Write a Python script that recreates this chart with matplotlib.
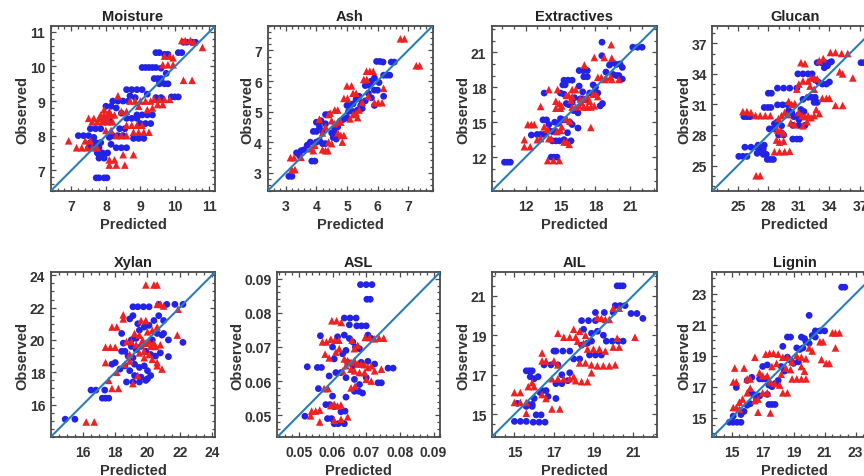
import matplotlib
matplotlib.use("Agg")
import matplotlib.pyplot as plt
from matplotlib.ticker import AutoMinorLocator, FixedLocator

plt.rcParams['font.family'] = ['Liberation Sans', 'DejaVu Sans']

# ---------------- data: (predicted, observed) ----------------
moisture_blue = [
    (7.72, 6.78), (7.8, 6.78), (7.95, 6.78), (8.03, 6.78),
    (10.25, 10.7), (10.35, 10.7), (10.5, 10.7), (10.6, 10.7),
    (10.1, 10.4), (10.2, 10.4), (9.45, 10.4), (9.55, 10.4), (9.7, 10.35), (9.8, 10.35),
    (9.05, 9.97), (9.15, 9.97), (9.25, 9.97), (9.35, 9.97), (9.45, 9.97),
    (9.4, 9.65), (9.5, 9.65), (9.6, 9.65), (9.7, 9.5), (9.8, 9.5), (9.55, 9.5),
    (9.9, 9.12), (10.0, 9.12), (10.1, 9.12), (9.45, 9.1), (9.6, 9.1),
    (8.6, 9.33), (8.75, 9.33), (8.9, 9.33), (9.05, 9.33),
    (8.2, 9.0), (8.35, 9.0), (8.5, 9.0), (8.65, 9.0),
    (8.0, 8.85), (8.15, 8.85), (8.3, 8.8),
    (8.9, 8.6), (9.05, 8.6), (9.2, 8.6), (9.35, 8.6),
    (8.6, 8.5), (8.75, 8.5), (8.9, 8.5),
    (9.0, 8.35), (9.15, 8.35), (9.3, 8.35),
    (7.55, 8.2), (7.7, 8.2), (7.85, 8.2),
    (7.2, 8.0), (7.35, 8.0), (7.5, 8.0), (8.2, 8.0), (8.35, 8.0), (8.5, 8.0),
    (8.8, 7.92), (8.95, 7.92), (9.1, 7.92),
    (7.55, 7.8), (7.7, 7.8), (7.85, 7.8),
    (7.5, 7.65), (7.65, 7.65), (7.8, 7.65), (8.3, 7.65), (8.45, 7.65), (8.6, 7.65),
    (7.75, 7.5), (7.9, 7.5), (8.05, 7.5),
    (7.8, 7.35), (7.95, 7.35),
    (8.4, 8.2), (8.55, 8.2), (7.95, 8.45), (8.1, 8.45),
    (8.7, 9.15), (8.85, 9.1), (9.2, 9.2), (8.45, 8.65), (8.1, 7.95), (7.65, 7.95),
    (8.15, 7.75), (9.6, 9.95), (9.75, 9.8),
]
moisture_red = [
    (10.2, 10.75), (10.3, 10.75), (10.45, 10.75), (10.55, 10.7), (10.8, 10.55),
    (9.7, 10.3), (9.85, 10.3), (9.95, 10.25),
    (9.65, 10.05), (9.8, 10.05), (9.95, 10.05),
    (10.25, 9.6), (10.5, 9.6),
    (8.35, 9.15), (8.7, 9.0), (8.85, 9.0), (9.0, 9.0), (9.15, 9.0), (9.3, 9.0),
    (9.4, 9.05), (9.55, 9.05), (9.7, 9.05), (9.85, 9.05), (9.5, 8.9), (9.65, 8.9),
    (7.85, 8.6), (7.95, 8.6), (8.05, 8.6), (8.15, 8.6), (8.25, 8.6),
    (7.5, 8.5), (7.65, 8.5), (7.8, 8.5), (7.95, 8.5), (8.05, 8.5),
    (7.6, 8.4), (7.75, 8.4), (7.9, 8.4), (8.05, 8.4), (8.2, 8.4),
    (8.6, 8.3), (8.75, 8.3), (8.9, 8.3), (9.05, 8.3),
    (8.8, 8.1), (8.95, 8.1), (9.1, 8.1), (9.25, 8.1),
    (8.3, 8.0), (8.45, 8.0), (8.6, 8.0),
    (6.92, 7.85), (7.55, 7.85), (7.4, 7.85),
    (7.15, 7.65), (7.3, 7.65), (7.45, 7.65), (7.6, 7.65), (7.75, 7.65),
    (8.8, 7.45), (8.5, 7.45),
    (8.1, 7.3), (8.25, 7.3),
    (8.1, 7.15), (8.3, 7.15), (8.55, 7.15),
    (8.0, 8.15), (8.15, 8.15), (8.45, 8.7), (8.6, 8.7),
    (9.2, 8.75), (9.35, 8.8), (8.95, 8.85), (8.1, 8.7), (7.95, 8.75),
]

ash_blue = [
    (3.1, 2.88), (3.2, 2.88), (3.85, 3.38), (3.95, 3.38),
    (3.35, 3.65), (3.5, 3.72), (3.6, 3.75), (3.45, 3.55),
    (5.97, 6.64), (6.08, 6.64), (6.18, 6.62), (6.45, 6.62), (6.55, 6.62),
    (6.2, 6.19), (6.3, 6.19), (6.4, 6.19),
    (5.6, 5.85), (5.75, 5.85), (5.9, 5.7), (6.0, 5.7), (6.2, 5.5),
    (5.0, 5.2), (5.1, 5.2), (5.2, 5.25),
    (4.3, 4.9), (4.4, 4.9), (4.1, 4.5), (4.3, 4.6),
    (3.9, 4.35), (4.0, 4.35), (4.2, 4.35),
    (4.0, 4.0), (4.1, 4.05), (4.5, 4.3), (4.6, 4.3),
    (4.8, 4.7), (4.9, 4.75), (5.0, 4.8),
    (5.2, 5.0), (5.35, 5.05), (5.5, 5.3), (5.6, 5.35),
    (4.2, 3.95), (4.3, 3.95),
    (5.5, 5.1), (5.7, 5.6), (5.8, 5.45), (5.9, 5.2),
    (4.6, 4.45), (4.7, 4.5), (5.3, 5.4), (5.4, 5.5), (5.8, 6.0), (5.9, 6.1),
    (4.0, 4.65), (4.15, 4.7), (3.7, 3.9), (3.8, 4.0),
    (4.55, 4.15), (4.65, 4.1), (5.05, 5.0), (5.45, 5.2), (6.05, 5.95),
]
ash_red = [
    (6.75, 7.38), (6.88, 7.38), (7.27, 6.5), (7.38, 6.5),
    (5.64, 6.32), (5.75, 6.32), (5.86, 6.32),
    (5.0, 5.84), (5.15, 5.84), (5.55, 6.05), (5.65, 6.05),
    (5.9, 5.29), (6.02, 5.29), (6.15, 5.29), (6.2, 5.76),
    (4.9, 5.43), (5.02, 5.43), (5.2, 5.6), (5.3, 5.6),
    (4.6, 5.05), (4.7, 5.05), (4.1, 4.75), (4.4, 4.9), (4.45, 4.95),
    (4.7, 4.3), (4.8, 4.22), (4.9, 4.22),
    (4.4, 4.0), (4.5, 3.95), (4.85, 4.0),
    (4.2, 3.75), (4.3, 3.72), (4.38, 3.72),
    (3.8, 3.78), (3.9, 3.72),
    (3.15, 3.49), (3.27, 3.49), (3.2, 3.1), (3.3, 3.1), (3.5, 3.5),
    (4.6, 4.6), (4.7, 4.65), (4.8, 4.65),
    (5.2, 4.9), (5.3, 4.95), (5.4, 5.05),
    (5.5, 5.3), (5.7, 5.5), (5.1, 4.76), (5.35, 4.8),
    (4.3, 4.5), (4.5, 4.7), (4.2, 4.3), (3.95, 3.9),
]

extractives_blue = [
    (10.2, 11.57), (10.45, 11.57), (10.7, 11.57),
    (14.2, 12.0), (14.45, 12.0), (14.7, 12.0),
    (21.2, 21.43), (21.6, 21.43), (22.0, 21.43),
    (18.56, 21.86), (18.55, 20.7),
    (19.2, 19.9), (19.5, 20.1), (19.8, 19.95), (20.1, 20.0), (20.3, 19.7),
    (19.5, 19.1), (19.8, 19.0), (20.0, 19.0), (20.3, 18.7),
    (16.6, 19.43), (16.95, 19.43), (17.3, 19.43),
    (17.0, 18.9), (17.3, 18.9),
    (15.3, 18.6), (15.65, 18.6), (16.0, 18.6),
    (15.2, 18.2), (15.4, 18.2), (13.6, 17.5),
    (15.0, 17.5), (15.3, 17.4),
    (17.5, 17.5), (17.85, 17.5), (18.2, 17.5),
    (16.7, 17.0), (16.9, 17.0), (17.2, 16.9),
    (15.5, 16.6), (15.7, 16.5),
    (16.1, 16.0), (16.3, 16.0), (16.5, 15.8),
    (15.0, 15.3), (15.2, 15.2), (15.4, 15.2),
    (14.5, 15.0), (14.8, 14.9),
    (13.0, 13.95), (13.3, 13.95), (13.6, 13.95),
    (14.0, 14.3), (14.3, 14.2), (14.6, 14.2),
    (14.3, 13.4), (14.6, 13.4), (14.9, 13.4),
    (15.3, 13.5), (15.6, 13.3), (15.9, 13.4),
    (13.5, 15.2), (13.8, 15.2),
    (15.8, 15.0), (16.0, 14.8), (16.5, 14.5),
    (12.5, 13.9), (18.4, 16.4), (18.6, 16.6),
    (16.0, 16.7), (16.2, 17.1), (17.8, 18.2), (18.0, 18.0),
    (14.0, 14.8), (15.6, 14.1), (16.6, 18.1), (16.9, 17.6), (18.9, 19.3),
]
extractives_red = [
    (19.35, 21.65), (17.9, 20.55), (18.75, 20.55), (19.4, 20.5),
    (17.05, 19.9), (18.2, 18.85), (18.5, 18.85),
    (18.8, 18.66), (19.4, 18.66), (20.0, 18.66),
    (18.9, 18.8), (19.3, 18.9),
    (14.0, 17.8), (14.75, 17.8), (16.0, 17.8), (16.3, 17.8),
    (15.5, 17.3), (15.7, 17.3), (16.0, 17.2),
    (16.7, 17.0), (17.0, 17.0), (17.3, 17.2),
    (17.8, 17.4), (18.0, 17.4), (18.2, 17.2),
    (14.6, 16.8), (14.9, 16.6), (15.1, 16.4),
    (14.6, 16.2), (15.0, 16.2),
    (16.0, 16.3), (16.3, 16.3), (16.6, 16.4),
    (17.0, 16.3), (17.3, 16.3), (17.6, 16.3), (17.9, 16.4),
    (13.3, 16.35), (15.5, 15.3), (15.8, 15.1),
    (12.2, 14.8), (12.5, 14.8), (12.75, 14.8),
    (13.6, 14.6), (13.9, 14.4), (17.6, 14.55),
    (11.9, 13.5), (11.9, 12.9), (12.4, 12.9),
    (13.0, 13.5), (13.3, 13.6), (14.0, 13.6), (14.2, 13.6),
    (15.3, 13.3), (15.55, 13.3), (15.75, 13.1),
    (13.9, 11.71), (14.4, 11.71), (14.9, 11.71),
    (14.7, 14.2), (15.0, 14.3), (15.1, 14.6),
    (16.8, 16.7), (17.5, 16.8), (15.9, 16.9),
]

glucan_blue = [
    (25.1, 25.9), (25.5, 25.9), (25.9, 25.9),
    (25.7, 26.8), (26.3, 26.8), (26.9, 26.8),
    (27.2, 26.6), (27.5, 26.6), (27.6, 27.0),
    (27.9, 25.6), (28.2, 25.6), (28.5, 25.6),
    (27.5, 26.1), (27.8, 26.1),
    (25.6, 29.8), (25.9, 29.8), (26.2, 29.8),
    (27.6, 30.7), (27.95, 30.7), (28.25, 30.7),
    (28.1, 28.6), (28.5, 28.6), (29.0, 28.0), (29.3, 28.2), (29.5, 28.0),
    (30.4, 27.6), (30.8, 27.6), (31.1, 27.6),
    (28.9, 30.96), (29.4, 30.96), (29.9, 30.96),
    (30.5, 29.8), (31.0, 29.5),
    (28.9, 32.6), (29.5, 32.6), (30.1, 32.6), (30.8, 32.6),
    (28.0, 32.1), (28.3, 32.1),
    (30.9, 34.0), (31.4, 34.0), (31.9, 34.0), (32.3, 34.0),
    (32.6, 33.4), (32.9, 33.2),
    (32.8, 35.1), (33.2, 35.1), (33.6, 35.1), (34.0, 35.1),
    (33.5, 34.6), (33.8, 34.8), (34.2, 35.2),
    (37.1, 35.1), (37.4, 35.1),
    (33.3, 33.0), (33.7, 33.0), (34.0, 33.2),
    (31.2, 30.5), (31.5, 30.3),
    (31.9, 31.7), (32.25, 31.7), (32.6, 31.7),
    (32.5, 31.2), (32.8, 31.2),
    (30.4, 28.95), (31.0, 28.95), (31.6, 28.95),
    (29.3, 28.9), (28.6, 29.1), (28.9, 29.3),
    (27.0, 27.0), (26.9, 26.2),
    (30.0, 30.4), (30.3, 30.2), (31.4, 31.5), (31.0, 30.0),
]
glucan_red = [
    (26.8, 24.0), (27.2, 24.0),
    (28.6, 26.35), (29.1, 26.35), (29.6, 26.35), (30.1, 26.4),
    (25.5, 30.3), (25.9, 30.3), (26.3, 30.2),
    (26.75, 29.9), (27.2, 29.9), (27.7, 29.9), (28.2, 29.9),
    (28.9, 28.5), (29.2, 28.4), (29.5, 28.2),
    (28.8, 27.5), (29.1, 27.3), (29.5, 27.4),
    (29.3, 29.9), (29.6, 30.2), (29.9, 30.0),
    (30.0, 31.3), (30.3, 31.0), (30.6, 31.1),
    (31.0, 30.2), (31.3, 29.9), (31.6, 29.8),
    (31.9, 29.9), (32.2, 29.7), (32.5, 29.9),
    (31.2, 35.1), (31.6, 35.0),
    (31.4, 33.3), (31.9, 33.3),
    (32.2, 33.6), (32.5, 33.6), (32.8, 33.5),
    (32.1, 32.8), (32.5, 32.5),
    (33.0, 35.3), (33.4, 35.5),
    (34.1, 36.1), (34.6, 36.1), (35.2, 36.0), (35.8, 36.0),
    (33.3, 31.6), (33.7, 31.6), (34.0, 31.6),
    (34.6, 30.9), (35.3, 30.9),
    (36.3, 33.6), (35.0, 34.2), (35.3, 34.0),
    (30.8, 32.5), (31.0, 33.0),
    (31.4, 28.9), (31.8, 29.3),
    (32.7, 30.5), (33.0, 30.1),
    (30.2, 29.2), (30.6, 29.0), (29.0, 29.6),
]

xylan_blue = [
    (14.9, 15.1), (15.5, 15.1),
    (16.5, 16.9), (16.8, 16.9), (17.35, 16.9),
    (17.2, 16.4), (17.4, 16.4), (17.6, 16.4),
    (18.7, 17.4), (19.1, 17.4), (19.5, 17.4), (19.9, 17.5),
    (19.1, 22.05), (19.4, 22.05), (19.75, 22.05), (20.1, 22.05),
    (20.7, 22.2), (21.2, 22.2), (21.7, 22.2), (22.2, 22.2),
    (22.2, 19.85), (21.3, 18.97),
    (18.9, 21.3), (19.1, 21.5),
    (18.4, 19.3), (18.6, 19.3),
    (18.3, 18.2), (18.6, 18.4), (18.9, 18.1),
    (17.8, 18.5), (18.0, 18.6),
    (19.5, 20.6), (19.8, 20.8), (20.1, 20.9),
    (20.6, 20.4), (20.9, 20.3),
    (19.3, 19.4), (19.6, 19.6), (19.9, 19.3),
    (20.2, 19.1), (20.5, 19.0), (20.8, 19.2),
    (19.2, 18.5), (19.5, 18.3), (19.8, 18.4),
    (20.2, 17.8), (20.0, 17.6),
    (19.0, 20.0), (19.3, 20.1),
    (20.4, 21.2), (20.7, 21.5), (21.0, 21.2),
    (18.8, 19.0), (19.1, 18.9),
    (21.0, 20.4), (21.3, 20.0),
    (18.5, 19.8), (19.0, 19.6), (20.3, 20.0), (20.0, 18.1),
    (19.4, 21.0), (19.2, 17.8), (19.6, 17.7), (18.4, 20.4),
]
xylan_red = [
    (19.9, 23.4), (20.4, 23.4), (20.6, 23.4),
    (16.2, 14.93), (16.7, 14.93),
    (17.8, 17.0), (18.2, 17.0), (17.6, 17.5),
    (17.8, 20.8), (18.1, 20.8),
    (17.4, 19.55), (17.7, 19.55), (18.0, 19.55),
    (17.4, 18.6), (18.1, 18.0),
    (18.5, 21.55), (21.85, 20.3),
    (20.6, 22.2), (20.8, 22.2), (21.0, 22.1), (21.9, 21.9),
    (19.6, 21.2), (19.9, 21.2),
    (19.3, 19.7), (19.6, 19.7), (19.9, 19.8), (20.2, 19.6), (20.5, 19.6), (20.8, 19.7),
    (18.7, 19.9), (19.0, 19.9), (18.9, 19.1),
    (19.5, 19.2), (19.8, 19.3), (20.1, 19.1),
    (20.3, 18.8), (20.6, 18.6),
    (19.1, 17.3), (19.4, 17.8),
    (20.6, 18.4), (20.9, 18.2),
    (20.0, 20.5), (20.3, 20.6), (20.6, 20.8),
    (18.6, 18.5), (18.9, 18.7),
    (19.2, 20.4), (19.5, 20.3),
    (19.8, 18.9), (18.5, 21.3),
    (19.7, 20.0), (20.1, 19.9), (20.4, 19.8),
]

asl_blue = [
    (0.0683, 0.0883), (0.0700, 0.0883), (0.0717, 0.0883),
    (0.0702, 0.0840), (0.0712, 0.0840),
    (0.0635, 0.0785), (0.0652, 0.0785), (0.0670, 0.0785),
    (0.0672, 0.0762), (0.0686, 0.0762), (0.0700, 0.0762),
    (0.0564, 0.0733), (0.0525, 0.0642),
    (0.0555, 0.0640), (0.0567, 0.0640), (0.0558, 0.0578),
    (0.0735, 0.0595), (0.0745, 0.0595),
    (0.0765, 0.0638), (0.0780, 0.0638),
    (0.0665, 0.0570), (0.0678, 0.0570), (0.0689, 0.0565),
    (0.0518, 0.0497),
    (0.0580, 0.0531), (0.0592, 0.0531), (0.0605, 0.0525),
    (0.0585, 0.0490), (0.0597, 0.0490),
    (0.0605, 0.0475), (0.0617, 0.0475), (0.0635, 0.0475),
    (0.0625, 0.0510), (0.0637, 0.0512),
    (0.0600, 0.0556), (0.0640, 0.0553),
    (0.0630, 0.0680), (0.0640, 0.0690), (0.0660, 0.0715), (0.0650, 0.0725), (0.0635, 0.0735),
    (0.0668, 0.0700), (0.0680, 0.0695), (0.0705, 0.0735), (0.0715, 0.0725),
    (0.0590, 0.0615), (0.0610, 0.0625), (0.0625, 0.0625), (0.0640, 0.0610),
    (0.0645, 0.0655), (0.0660, 0.0645), (0.0685, 0.0655), (0.0705, 0.0658), (0.0725, 0.0650),
    (0.0600, 0.0700), (0.0605, 0.0665),
    (0.0665, 0.0605), (0.0680, 0.0590), (0.0700, 0.0610),
    (0.0650, 0.0765), (0.0615, 0.0730),
]
asl_red = [
    (0.0598, 0.0777), (0.0612, 0.0777), (0.0626, 0.0772),
    (0.0595, 0.0723), (0.0607, 0.0720), (0.0619, 0.0720),
    (0.0570, 0.0715), (0.0582, 0.0715),
    (0.0697, 0.0728), (0.0710, 0.0728), (0.0724, 0.0724), (0.0738, 0.0726), (0.0752, 0.0726),
    (0.0578, 0.0679), (0.0590, 0.0668),
    (0.0635, 0.0665), (0.0645, 0.0660), (0.0655, 0.0655), (0.0665, 0.0660),
    (0.0675, 0.0650), (0.0685, 0.0650), (0.0695, 0.0648), (0.0705, 0.0640),
    (0.0715, 0.0645), (0.0725, 0.0630), (0.0745, 0.0635),
    (0.0655, 0.0635), (0.0665, 0.0630), (0.0680, 0.0625), (0.0695, 0.0625),
    (0.0640, 0.0645), (0.0630, 0.0630),
    (0.0575, 0.0578), (0.0587, 0.0578),
    (0.0655, 0.0580), (0.0667, 0.0585),
    (0.0700, 0.0605), (0.0715, 0.0600),
    (0.0538, 0.0512), (0.0550, 0.0512), (0.0562, 0.0515),
    (0.0535, 0.0498), (0.0562, 0.0480),
    (0.0595, 0.0528), (0.0605, 0.0532), (0.0615, 0.0527), (0.0625, 0.0530),
    (0.0605, 0.0485), (0.0625, 0.0488), (0.0645, 0.0495),
    (0.0620, 0.0695), (0.0610, 0.0685),
    (0.0665, 0.0695), (0.0675, 0.0705), (0.0658, 0.0720),
]

ail_blue = [
    (20.2, 21.5), (20.35, 21.5), (20.5, 21.5),
    (15.0, 14.64), (15.3, 14.64), (15.6, 14.64),
    (15.95, 14.6), (16.25, 14.6), (16.55, 14.6),
    (16.1, 14.97), (16.35, 14.97),
    (15.6, 15.4), (15.9, 15.4),
    (15.6, 17.2), (15.75, 17.2), (15.9, 17.2),
    (15.8, 16.9), (16.0, 16.8), (16.2, 16.9),
    (16.0, 15.8), (16.3, 16.1),
    (16.5, 17.5), (16.85, 17.5), (17.2, 17.5),
    (17.1, 18.2), (17.45, 18.2), (17.8, 18.2),
    (18.0, 17.8), (18.3, 17.8),
    (17.1, 16.55), (17.4, 16.55), (17.7, 16.7),
    (17.4, 17.0), (17.8, 17.1),
    (18.4, 18.5), (18.7, 18.6), (18.9, 18.7),
    (18.4, 19.74), (18.75, 19.74), (19.1, 19.74),
    (18.9, 19.1), (19.2, 19.2), (19.5, 19.0),
    (19.1, 20.15), (19.55, 20.15), (20.0, 20.15),
    (20.1, 20.5), (20.35, 20.5), (20.6, 20.5),
    (20.9, 20.1), (21.2, 20.1), (21.5, 19.85),
    (19.65, 18.7), (19.95, 18.7), (20.25, 18.7), (20.5, 18.7),
    (18.8, 18.0), (19.1, 18.0), (19.4, 18.0),
    (16.4, 16.2), (16.6, 16.2), (16.7, 15.9), (17.1, 15.8),
    (15.15, 15.55), (15.7, 15.5), (15.9, 15.5),
    (17.0, 18.2), (18.5, 19.3),
]
ail_red = [
    (20.0, 20.37), (20.3, 20.37), (19.6, 19.8), (19.8, 19.8),
    (19.2, 19.9), (19.4, 19.85),
    (21.1, 18.9), (20.2, 18.85), (20.0, 18.4), (20.3, 18.4),
    (17.2, 19.1), (17.5, 18.9), (17.8, 18.9), (18.1, 18.9),
    (18.0, 19.3), (18.3, 19.2), (18.6, 19.0),
    (18.2, 18.7), (18.5, 18.6),
    (18.7, 18.3), (19.0, 18.3), (19.3, 18.3), (19.6, 18.2),
    (16.4, 18.1), (16.4, 17.7), (16.6, 17.7),
    (17.0, 17.7), (17.2, 17.5),
    (18.3, 17.6), (18.6, 17.6), (18.9, 17.5),
    (19.2, 17.45), (19.5, 17.45), (19.8, 17.45), (20.1, 17.5),
    (18.9, 17.1),
    (16.9, 16.8), (17.2, 16.8), (17.5, 16.8),
    (17.8, 16.8), (18.0, 16.9),
    (18.1, 16.7), (18.4, 16.65), (18.7, 16.65),
    (15.0, 16.1), (15.3, 16.1),
    (15.0, 15.6), (15.3, 15.6), (15.6, 15.6),
    (15.7, 16.4), (15.9, 16.6),
    (16.4, 16.0), (16.6, 15.8),
    (16.9, 15.27), (17.3, 15.27),
    (15.6, 15.05), (16.0, 16.4),
]

lignin_blue = [
    (22.1, 23.42), (22.3, 23.42), (20.0, 21.6),
    (14.85, 14.7), (15.1, 14.7), (15.35, 14.7), (15.6, 14.7),
    (15.1, 15.1), (15.6, 15.2), (15.8, 15.4),
    (15.3, 16.95), (16.0, 17.4), (16.3, 17.6),
    (17.4, 15.85), (17.6, 15.85), (17.8, 15.85),
    (16.6, 16.2), (16.8, 16.4),
    (16.8, 17.5), (17.0, 17.5), (17.2, 17.5),
    (17.0, 18.3), (17.3, 18.4),
    (17.4, 17.1), (17.6, 17.0),
    (18.3, 19.6), (18.6, 20.2), (18.8, 20.2),
    (19.5, 20.2), (19.7, 20.1),
    (20.4, 20.6), (20.7, 20.6), (21.0, 20.6),
    (20.2, 20.3), (20.4, 20.2),
    (19.2, 19.5), (19.4, 19.4), (19.6, 19.5),
    (18.6, 18.9), (18.8, 18.7), (19.0, 18.5),
    (19.8, 19.9), (20.0, 19.8),
    (18.2, 18.3), (18.4, 18.0), (19.3, 18.6),
    (17.8, 17.2), (18.0, 17.4),
    (16.2, 16.7), (16.4, 16.5), (17.3, 16.5),
    (16.0, 15.8), (16.2, 15.9),
]
lignin_red = [
    (21.5, 20.47), (21.7, 20.47), (21.95, 20.47),
    (21.7, 19.5), (21.1, 18.5), (21.3, 18.5), (20.8, 18.75),
    (20.0, 19.5), (20.2, 19.3), (20.7, 19.9), (20.9, 19.9),
    (17.2, 19.1), (17.45, 19.15), (17.7, 19.15), (18.0, 19.1),
    (18.3, 18.9), (18.6, 18.9), (18.9, 18.6),
    (16.5, 18.9), (15.2, 18.2), (15.8, 18.2),
    (15.1, 17.3), (15.3, 17.3),
    (16.0, 17.5), (16.2, 17.5),
    (16.8, 17.9), (17.0, 17.7), (17.3, 17.7),
    (17.5, 17.3), (17.8, 17.2), (18.1, 17.1),
    (18.9, 17.5), (19.2, 17.5), (19.5, 17.5), (19.8, 17.5),
    (18.3, 16.6), (18.6, 16.6),
    (17.0, 16.6), (17.3, 16.6),
    (16.5, 16.1), (16.7, 16.2),
    (15.5, 16.0), (15.7, 16.2),
    (15.1, 15.65), (15.3, 15.65), (15.5, 15.55),
    (16.7, 15.35), (17.5, 15.3),
    (16.0, 16.6), (16.2, 16.9),
    (19.5, 18.3), (19.7, 18.0),
    (19.2, 19.0), (19.5, 18.9), (19.8, 18.8),
    (17.6, 18.3), (17.9, 18.5),
    (18.5, 18.2), (18.8, 18.1), (18.2, 17.8),
]

titles = ["Moisture", "Ash", "Extractives", "Glucan",
          "Xylan", "ASL", "AIL", "Lignin"]
blue_sets = [moisture_blue, ash_blue, extractives_blue, glucan_blue,
             xylan_blue, asl_blue, ail_blue, lignin_blue]
red_sets = [moisture_red, ash_red, extractives_red, glucan_red,
            xylan_red, asl_red, ail_red, lignin_red]
tick_values = [
    [7, 8, 9, 10, 11],
    [3, 4, 5, 6, 7],
    [12, 15, 18, 21],
    [25, 28, 31, 34, 37],
    [16, 18, 20, 22, 24],
    [0.05, 0.06, 0.07, 0.08, 0.09],
    [15, 17, 19, 21],
    [15, 17, 19, 21, 23],
]
tick_labels = [
    ["7", "8", "9", "10", "11"],
    ["3", "4", "5", "6", "7"],
    ["12", "15", "18", "21"],
    ["25", "28", "31", "34", "37"],
    ["16", "18", "20", "22", "24"],
    ["0.05", "0.06", "0.07", "0.08", "0.09"],
    ["15", "17", "19", "21"],
    ["15", "17", "19", "21", "23"],
]

# ---------------- layout / style ----------------
W, H = 864, 477
limits = [(6.4, 11.17), (2.4, 7.8), (9.1, 23.25), (22.5, 38.7),
          (14.0, 24.2), (0.0436, 0.092), (13.85, 22.2), (13.75, 24.4)]
boxes_px = [  # left, top, width, height in pixels
    (50.7, 27, 164.5, 165), (267.5, 27, 165, 165), (491.7, 27, 165, 165), (712.3, 27, 165, 165),
    (50.7, 273, 164.5, 165), (277.3, 273, 163, 165), (491.7, 273, 165, 165), (712.3, 273, 165, 165),
]
minor_n = [5, 5, 3, 3, 4, 5, 4, 4]

BLUE = "#2323e8"
RED = "#ee2222"
LINE = "#2a7db8"
TXT = "#333333"
FRAME = "#4a4a4a"

fig = plt.figure(figsize=(W / 100, H / 100), dpi=100)
fig.patch.set_facecolor("white")

for i in range(8):
    l, t, w, h = boxes_px[i]
    ax = fig.add_axes([l / W, 1 - (t + h) / H, w / W, h / H])
    lo, hi = limits[i]
    bx = [p[0] for p in blue_sets[i]]
    by = [p[1] for p in blue_sets[i]]
    rx = [p[0] for p in red_sets[i]]
    ry = [p[1] for p in red_sets[i]]
    ax.scatter(bx, by, s=24, marker="o", color=BLUE, edgecolors="none", zorder=2)
    ax.scatter(rx, ry, s=30, marker="^", color=RED, edgecolors="none", zorder=2)
    ax.plot([lo, hi], [lo, hi], color=LINE, lw=1.5, zorder=3)
    ax.set_xlim(lo, hi)
    ax.set_ylim(lo, hi)
    ax.xaxis.set_major_locator(FixedLocator(tick_values[i]))
    ax.yaxis.set_major_locator(FixedLocator(tick_values[i]))
    ax.set_xticklabels(tick_labels[i])
    ax.set_yticklabels(tick_labels[i])
    ax.xaxis.set_minor_locator(AutoMinorLocator(minor_n[i]))
    ax.yaxis.set_minor_locator(AutoMinorLocator(minor_n[i]))
    ax.tick_params(which="both", direction="in", top=True, right=True,
                   color=FRAME, width=0.9)
    ax.tick_params(which="major", length=3.5, labelsize=10, labelcolor=TXT)
    ax.tick_params(axis="x", which="major", pad=5.5)
    ax.tick_params(axis="y", which="major", pad=4)
    ax.tick_params(which="minor", length=2)
    for lab in ax.get_xticklabels() + ax.get_yticklabels():
        lab.set_fontweight("bold")
    for sp in ax.spines.values():
        sp.set_color(FRAME)
        sp.set_linewidth(1.3)
    ax.set_title(titles[i], fontsize=10.5, fontweight="bold", color="#222222", pad=4)
    ax.set_xlabel("Predicted", fontsize=10.5, fontweight="bold", color=TXT, labelpad=3)
    ax.set_ylabel("Observed", fontsize=10.5, fontweight="bold", color=TXT, labelpad=0)

fig.savefig("out.png", dpi=100)
